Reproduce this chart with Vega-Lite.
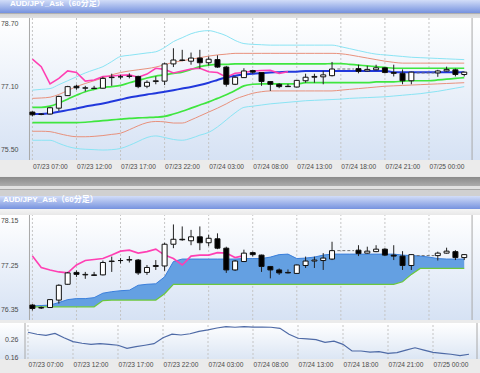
{
"$schema":"https://vega.github.io/schema/vega-lite/v6.json",
"background":"#ebebeb",
"padding":0,
"columns":1,
"spacing":0,
"bounds":"flush",
"config":{
  "view":{"stroke":null},
  "axis":{"domain":false,"ticks":false,"grid":false,"title":null,"minExtent":0,"labelOverlap":false,"labelFlush":false,"labelFont":"Liberation Sans","labelFontSize":7,"labelColor":"#4a4a4a"}
},
"datasets":{
"candles":[{"i":0,"o":76.45,"h":76.47,"l":76.34,"c":76.38},{"i":1,"o":76.39,"h":76.42,"l":76.37,"c":76.40},{"i":2,"o":76.40,"h":76.57,"l":76.39,"c":76.56},{"i":3,"o":76.55,"h":76.87,"l":76.48,"c":76.85},{"i":4,"o":76.87,"h":77.12,"l":76.86,"c":77.10},{"i":5,"o":77.11,"h":77.15,"l":77.02,"c":77.07},{"i":6,"o":77.06,"h":77.12,"l":76.98,"c":77.07},{"i":7,"o":77.06,"h":77.12,"l":77.04,"c":77.05},{"i":8,"o":77.06,"h":77.35,"l":77.05,"c":77.31},{"i":9,"o":77.33,"h":77.43,"l":77.12,"c":77.34},{"i":10,"o":77.35,"h":77.40,"l":77.29,"c":77.35},{"i":11,"o":77.36,"h":77.44,"l":77.31,"c":77.37},{"i":12,"o":77.36,"h":77.38,"l":77.06,"c":77.10},{"i":13,"o":77.11,"h":77.26,"l":77.06,"c":77.21},{"i":14,"o":77.23,"h":77.36,"l":77.16,"c":77.25},{"i":15,"o":77.24,"h":77.71,"l":77.14,"c":77.68},{"i":16,"o":77.68,"h":78.08,"l":77.60,"c":77.78},{"i":17,"o":77.78,"h":78.04,"l":77.75,"c":77.77},{"i":18,"o":77.75,"h":77.97,"l":77.66,"c":77.83},{"i":19,"o":77.83,"h":78.04,"l":77.56,"c":77.71},{"i":20,"o":77.71,"h":77.87,"l":77.64,"c":77.80},{"i":21,"o":77.79,"h":77.90,"l":77.58,"c":77.60},{"i":22,"o":77.60,"h":77.63,"l":77.10,"c":77.16},{"i":23,"o":77.16,"h":77.36,"l":77.14,"c":77.34},{"i":24,"o":77.33,"h":77.57,"l":77.32,"c":77.50},{"i":25,"o":77.51,"h":77.53,"l":77.43,"c":77.47},{"i":26,"o":77.46,"h":77.47,"l":77.12,"c":77.23},{"i":27,"o":77.23,"h":77.24,"l":76.99,"c":77.16},{"i":28,"o":77.16,"h":77.19,"l":77.06,"c":77.10},{"i":29,"o":77.11,"h":77.17,"l":77.09,"c":77.10},{"i":30,"o":77.09,"h":77.27,"l":77.08,"c":77.26},{"i":31,"o":77.25,"h":77.43,"l":77.20,"c":77.34},{"i":32,"o":77.34,"h":77.43,"l":77.20,"c":77.36},{"i":33,"o":77.35,"h":77.50,"l":77.16,"c":77.40},{"i":34,"o":77.38,"h":77.73,"l":77.36,"c":77.55},{"i":37,"o":77.56,"h":77.66,"l":77.44,"c":77.49},{"i":38,"o":77.50,"h":77.63,"l":77.49,"c":77.54},{"i":39,"o":77.53,"h":77.66,"l":77.52,"c":77.58},{"i":40,"o":77.58,"h":77.60,"l":77.44,"c":77.46},{"i":41,"o":77.46,"h":77.66,"l":77.36,"c":77.44},{"i":42,"o":77.44,"h":77.54,"l":77.16,"c":77.25},{"i":43,"o":77.25,"h":77.48,"l":77.16,"c":77.47},{"i":46,"o":77.45,"h":77.53,"l":77.35,"c":77.50},{"i":47,"o":77.50,"h":77.61,"l":77.49,"c":77.54},{"i":48,"o":77.53,"h":77.56,"l":77.36,"c":77.41},{"i":49,"o":77.41,"h":77.48,"l":77.36,"c":77.47}],
"dash":[{"a":34.6,"b":36.5,"y":77.55},{"a":43.6,"b":45.6,"y":77.45}],
"xgrid":[{"g":0},{"g":5},{"g":10},{"g":15},{"g":20},{"g":25},{"g":30},{"g":35},{"g":40},{"g":45}],
"xedge":[{"g":-0.3333},{"g":49.8889}],
"bands":[
{"i":0,"u3":77.01,"u2":76.80,"u1":76.57,"m":76.40,"l1":76.18,"l2":75.96,"l3":75.73},
{"i":1,"u3":77.03,"u2":76.81,"u1":76.57,"m":76.40,"l1":76.18,"l2":75.96,"l3":75.73},
{"i":2,"u3":77.05,"u2":76.83,"u1":76.60,"m":76.42,"l1":76.18,"l2":75.95,"l3":75.73},
{"i":3,"u3":77.15,"u2":76.90,"u1":76.68,"m":76.46,"l1":76.18,"l2":75.90,"l3":75.65},
{"i":4,"u3":77.25,"u2":77.00,"u1":76.78,"m":76.50,"l1":76.18,"l2":75.85,"l3":75.57},
{"i":5,"u3":77.35,"u2":77.10,"u1":76.88,"m":76.54,"l1":76.18,"l2":75.82,"l3":75.52},
{"i":6,"u3":77.45,"u2":77.18,"u1":76.97,"m":76.59,"l1":76.19,"l2":75.82,"l3":75.50},
{"i":7,"u3":77.53,"u2":77.25,"u1":77.03,"m":76.63,"l1":76.21,"l2":75.83,"l3":75.49},
{"i":8,"u3":77.61,"u2":77.32,"u1":77.08,"m":76.67,"l1":76.23,"l2":75.85,"l3":75.48},
{"i":9,"u3":77.74,"u2":77.40,"u1":77.10,"m":76.72,"l1":76.25,"l2":75.88,"l3":75.49},
{"i":10,"u3":77.87,"u2":77.46,"u1":77.13,"m":76.77,"l1":76.27,"l2":75.91,"l3":75.52},
{"i":11,"u3":77.90,"u2":77.50,"u1":77.20,"m":76.82,"l1":76.29,"l2":76.00,"l3":75.60},
{"i":12,"u3":77.93,"u2":77.53,"u1":77.26,"m":76.86,"l1":76.30,"l2":76.10,"l3":75.70},
{"i":13,"u3":77.96,"u2":77.56,"u1":77.32,"m":76.90,"l1":76.31,"l2":76.18,"l3":75.80},
{"i":14,"u3":77.99,"u2":77.60,"u1":77.37,"m":76.93,"l1":76.32,"l2":76.21,"l3":75.84},
{"i":15,"u3":78.10,"u2":77.66,"u1":77.40,"m":76.97,"l1":76.34,"l2":76.20,"l3":75.80},
{"i":16,"u3":78.25,"u2":77.72,"u1":77.44,"m":77.01,"l1":76.40,"l2":76.17,"l3":75.75},
{"i":17,"u3":78.35,"u2":77.76,"u1":77.47,"m":77.05,"l1":76.47,"l2":76.17,"l3":75.73},
{"i":18,"u3":78.45,"u2":77.80,"u1":77.54,"m":77.09,"l1":76.55,"l2":76.25,"l3":75.78},
{"i":19,"u3":78.51,"u2":77.84,"u1":77.61,"m":77.14,"l1":76.63,"l2":76.35,"l3":75.86},
{"i":20,"u3":78.53,"u2":77.88,"u1":77.65,"m":77.20,"l1":76.71,"l2":76.45,"l3":75.93},
{"i":21,"u3":78.48,"u2":77.91,"u1":77.67,"m":77.27,"l1":76.80,"l2":76.55,"l3":76.07},
{"i":22,"u3":78.40,"u2":77.93,"u1":77.67,"m":77.34,"l1":76.89,"l2":76.66,"l3":76.25},
{"i":23,"u3":78.28,"u2":77.95,"u1":77.68,"m":77.38,"l1":77.00,"l2":76.78,"l3":76.43},
{"i":24,"u3":78.20,"u2":77.95,"u1":77.68,"m":77.41,"l1":77.12,"l2":76.86,"l3":76.57},
{"i":25,"u3":78.18,"u2":77.95,"u1":77.68,"m":77.43,"l1":77.16,"l2":76.93,"l3":76.60},
{"i":26,"u3":78.17,"u2":77.95,"u1":77.68,"m":77.45,"l1":77.17,"l2":76.97,"l3":76.63},
{"i":27,"u3":78.16,"u2":77.95,"u1":77.68,"m":77.46,"l1":77.17,"l2":76.99,"l3":76.66},
{"i":28,"u3":78.16,"u2":77.95,"u1":77.68,"m":77.47,"l1":77.17,"l2":76.99,"l3":76.68},
{"i":29,"u3":78.16,"u2":77.95,"u1":77.68,"m":77.48,"l1":77.17,"l2":76.99,"l3":76.70},
{"i":30,"u3":78.16,"u2":77.95,"u1":77.68,"m":77.48,"l1":77.17,"l2":76.99,"l3":76.72},
{"i":31,"u3":78.16,"u2":77.95,"u1":77.68,"m":77.50,"l1":77.20,"l2":76.99,"l3":76.74},
{"i":32,"u3":78.16,"u2":77.95,"u1":77.68,"m":77.50,"l1":77.20,"l2":76.99,"l3":76.75},
{"i":33,"u3":78.16,"u2":77.95,"u1":77.68,"m":77.50,"l1":77.20,"l2":76.99,"l3":76.76},
{"i":34,"u3":78.16,"u2":77.95,"u1":77.69,"m":77.50,"l1":77.20,"l2":76.99,"l3":76.77},
{"i":35,"u3":78.12,"u2":77.94,"u1":77.69,"m":77.50,"l1":77.20,"l2":77.01,"l3":76.78},
{"i":36,"u3":78.07,"u2":77.91,"u1":77.67,"m":77.50,"l1":77.20,"l2":77.03,"l3":76.80},
{"i":37,"u3":78.02,"u2":77.87,"u1":77.65,"m":77.50,"l1":77.20,"l2":77.05,"l3":76.81},
{"i":38,"u3":77.97,"u2":77.83,"u1":77.63,"m":77.50,"l1":77.20,"l2":77.07,"l3":76.82},
{"i":39,"u3":77.93,"u2":77.79,"u1":77.61,"m":77.50,"l1":77.22,"l2":77.09,"l3":76.83},
{"i":40,"u3":77.91,"u2":77.75,"u1":77.59,"m":77.50,"l1":77.22,"l2":77.11,"l3":76.84},
{"i":41,"u3":77.89,"u2":77.72,"u1":77.57,"m":77.47,"l1":77.22,"l2":77.12,"l3":76.86},
{"i":42,"u3":77.87,"u2":77.70,"u1":77.57,"m":77.47,"l1":77.24,"l2":77.13,"l3":76.88},
{"i":43,"u3":77.85,"u2":77.70,"u1":77.57,"m":77.47,"l1":77.25,"l2":77.14,"l3":76.90},
{"i":44,"u3":77.84,"u2":77.70,"u1":77.57,"m":77.47,"l1":77.25,"l2":77.15,"l3":76.92},
{"i":45,"u3":77.83,"u2":77.70,"u1":77.57,"m":77.47,"l1":77.25,"l2":77.16,"l3":76.95},
{"i":46,"u3":77.82,"u2":77.70,"u1":77.57,"m":77.47,"l1":77.27,"l2":77.17,"l3":76.98},
{"i":47,"u3":77.81,"u2":77.70,"u1":77.57,"m":77.47,"l1":77.29,"l2":77.18,"l3":77.02},
{"i":48,"u3":77.80,"u2":77.70,"u1":77.57,"m":77.47,"l1":77.31,"l2":77.19,"l3":77.06},
{"i":49,"u3":77.79,"u2":77.70,"u1":77.57,"m":77.47,"l1":77.33,"l2":77.20,"l3":77.10}],
"pink1":[{"i":0,"v":77.80},{"i":1,"v":77.61},{"i":2,"v":77.17},{"i":3,"v":77.31},{"i":4,"v":77.50},{"i":5,"v":77.46},{"i":6,"v":77.24},{"i":7,"v":77.27},{"i":8,"v":77.36},{"i":9,"v":77.37},{"i":10,"v":77.39},{"i":11,"v":77.40},{"i":12,"v":77.34},{"i":13,"v":77.42},{"i":14,"v":77.57},{"i":15,"v":77.54},{"i":16,"v":77.45},{"i":17,"v":77.50},{"i":18,"v":77.55},{"i":19,"v":77.57},{"i":20,"v":77.48},{"i":21,"v":77.46},{"i":22,"v":77.34},{"i":23,"v":77.44},{"i":24,"v":77.46},{"i":25,"v":77.50},{"i":26,"v":77.51},{"i":27,"v":77.52},{"i":28,"v":77.44},{"i":29,"v":77.48}],
"pink2":[{"i":0,"v":77.44},{"i":1,"v":77.21},{"i":2,"v":77.16},{"i":3,"v":77.12},{"i":4,"v":77.10},{"i":5,"v":77.26},{"i":6,"v":77.35},{"i":7,"v":77.37},{"i":8,"v":77.39},{"i":9,"v":77.46},{"i":10,"v":77.54},{"i":11,"v":77.56},{"i":12,"v":77.50},{"i":13,"v":77.53},{"i":14,"v":77.58},{"i":15,"v":77.46},{"i":16,"v":77.39},{"i":17,"v":77.26},{"i":18,"v":77.44},{"i":19,"v":77.46},{"i":20,"v":77.46},{"i":21,"v":77.51},{"i":22,"v":77.50},{"i":23,"v":77.41},{"i":24,"v":77.45}],
"cloud":[{"i":0,"t":76.43,"b":76.415},{"i":1,"t":76.44,"b":76.415},{"i":2,"t":76.45,"b":76.415},{"i":3,"t":76.50,"b":76.415},{"i":4,"t":76.56,"b":76.415},{"i":5,"t":76.58,"b":76.415},{"i":6,"t":76.58,"b":76.415},{"i":7,"t":76.60,"b":76.415},{"i":8,"t":76.69,"b":76.54},{"i":9,"t":76.72,"b":76.55},{"i":10,"t":76.74,"b":76.55},{"i":11,"t":76.75,"b":76.55},{"i":12,"t":76.85,"b":76.55},{"i":13,"t":76.87,"b":76.55},{"i":14,"t":76.88,"b":76.55},{"i":15,"t":77.02,"b":76.68},{"i":16,"t":77.33,"b":76.87},{"i":17,"t":77.38,"b":76.87},{"i":18,"t":77.38,"b":76.87},{"i":19,"t":77.38,"b":76.87},{"i":20,"t":77.38,"b":76.87},{"i":21,"t":77.38,"b":76.87},{"i":22,"t":77.38,"b":76.87},{"i":23,"t":77.38,"b":76.87},{"i":24,"t":77.39,"b":76.87},{"i":25,"t":77.39,"b":76.87},{"i":26,"t":77.39,"b":76.87},{"i":27,"t":77.42,"b":76.87},{"i":28,"t":77.47,"b":76.87},{"i":29,"t":77.48,"b":76.87},{"i":30,"t":77.39,"b":76.87},{"i":31,"t":77.40,"b":76.87},{"i":32,"t":77.42,"b":76.87},{"i":33,"t":77.46,"b":76.87},{"i":34,"t":77.48,"b":76.87},{"i":35,"t":77.48,"b":76.87},{"i":36,"t":77.48,"b":76.87},{"i":37,"t":77.48,"b":76.87},{"i":38,"t":77.48,"b":76.87},{"i":39,"t":77.48,"b":76.87},{"i":40,"t":77.48,"b":76.87},{"i":41,"t":77.48,"b":76.87},{"i":42,"t":77.46,"b":76.92},{"i":43,"t":77.45,"b":77.07},{"i":44,"t":77.44,"b":77.19},{"i":45,"t":77.42,"b":77.19},{"i":46,"t":77.39,"b":77.19},{"i":47,"t":77.38,"b":77.19},{"i":48,"t":77.38,"b":77.19},{"i":49,"t":77.38,"b":77.19}],
"vol":[{"i":0,"v":0.299},{"i":1,"v":0.288},{"i":2,"v":0.282},{"i":3,"v":0.293},{"i":4,"v":0.269},{"i":5,"v":0.247},{"i":6,"v":0.238},{"i":7,"v":0.232},{"i":8,"v":0.236},{"i":9,"v":0.232},{"i":10,"v":0.227},{"i":11,"v":0.210},{"i":12,"v":0.219},{"i":13,"v":0.227},{"i":14,"v":0.236},{"i":15,"v":0.269},{"i":16,"v":0.289},{"i":17,"v":0.284},{"i":18,"v":0.291},{"i":19,"v":0.304},{"i":20,"v":0.312},{"i":21,"v":0.323},{"i":22,"v":0.330},{"i":23,"v":0.327},{"i":24,"v":0.330},{"i":25,"v":0.328},{"i":26,"v":0.328},{"i":27,"v":0.327},{"i":28,"v":0.321},{"i":29,"v":0.288},{"i":30,"v":0.266},{"i":31,"v":0.262},{"i":32,"v":0.258},{"i":33,"v":0.243},{"i":34,"v":0.250},{"i":35,"v":0.232},{"i":36,"v":0.195},{"i":37,"v":0.195},{"i":38,"v":0.189},{"i":39,"v":0.191},{"i":40,"v":0.182},{"i":41,"v":0.186},{"i":42,"v":0.200},{"i":43,"v":0.213},{"i":44,"v":0.200},{"i":45,"v":0.187},{"i":46,"v":0.182},{"i":47,"v":0.177},{"i":48,"v":0.169},{"i":49,"v":0.177}]
},
"concat":[
{"width":480,"height":18,
 "view":{"stroke":null,"fill":{"gradient":"linear","x1":0,"y1":0,"x2":0,"y2":1,"stops":[{"offset":0,"color":"#d2ddf8"},{"offset":0.71,"color":"#7793df"},{"offset":0.72,"color":"#8c8c8c"},{"offset":0.78,"color":"#d4d4d4"},{"offset":1,"color":"#e2e2e2"}]}},
 "title":{"text":"AUD/JPY_Ask（60分足）","anchor":"start","frame":"group","offset":0,"dy":14,"baseline":"alphabetic","dx":10,"color":"#ffffff","font":"Liberation Sans, Noto Sans CJK JP","fontSize":8,"fontWeight":"bold"},
 "data":{"values":[]},
 "mark":"point",
 "encoding":{}
},
{"width":480,"height":158,
 "view":{"stroke":null,"fill":{"gradient":"linear","x1":0,"y1":0,"x2":0,"y2":1,"stops":[{"offset":0,"color":"#ffffff"},{"offset":0.898,"color":"#d6e2f4"},{"offset":0.9,"color":"#ebebeb"},{"offset":1,"color":"#ebebeb"}]}},
 "encoding":{"x":{"field":"i","type":"quantitative","scale":{"domain":[-3.1111,50.2222],"nice":false,"zero":false},"axis":{"values":[0,5,10,15,20,25,30,35,40,45],"labelExpr":"['07/23 07:00','07/23 12:00','07/23 17:00','07/23 22:00','07/24 03:00','07/24 08:00','07/24 13:00','07/24 18:00','07/24 21:00','07/25 00:00'][round(datum.value/5)]","labelAlign":"left","labelPadding":3,"labelFontSize":6.6,"offset":-16}}},
 "layer":[
  {"data":{"name":"xgrid"},"mark":{"type":"rule","color":"#c4c4c4","strokeDash":[2,2]},
   "encoding":{"x":{"field":"g","type":"quantitative","scale":{"domain":[-3.1111,50.2222],"nice":false,"zero":false}},
    "y":{"datum":75.226,"type":"quantitative","scale":{"domain":[74.817,78.853],"nice":false,"zero":false}},"y2":{"datum":78.853}}},
  {"data":{"values":[{"g":75.5},{"g":76.3},{"g":77.1},{"g":77.9},{"g":78.7}]},"mark":{"type":"rule","color":"#c4c4c4","strokeDash":[2,2]},
   "encoding":{"x":{"datum":-0.3333,"type":"quantitative","scale":{"domain":[-3.1111,50.2222],"nice":false,"zero":false}},"x2":{"datum":49.8889},
    "y":{"field":"g","type":"quantitative","scale":{"domain":[74.817,78.853],"nice":false,"zero":false},"axis":{"values":[75.5,76.3,77.1,77.9,78.7],"format":".2f","offset":-25,"labelPadding":7}}}},
  {"data":{"values":[{"g":75.226},{"g":78.853}]},"mark":{"type":"rule","color":"#a8a8a8"},
   "encoding":{"x":{"datum":-0.3333,"type":"quantitative","scale":{"domain":[-3.1111,50.2222],"nice":false,"zero":false}},"x2":{"datum":49.8889},
    "y":{"field":"g","type":"quantitative","scale":{"domain":[74.817,78.853],"nice":false,"zero":false}}}},
  {"data":{"name":"xedge"},"mark":{"type":"rule","color":"#a8a8a8"},
   "encoding":{"x":{"field":"g","type":"quantitative","scale":{"domain":[-3.1111,50.2222],"nice":false,"zero":false}},
    "y":{"datum":75.226,"type":"quantitative","scale":{"domain":[74.817,78.853],"nice":false,"zero":false}},"y2":{"datum":78.853}}},
  {"data":{"name":"bands"},"transform":[{"fold":["u3","l3"],"as":["k","v"]}],"mark":{"type":"line","color":"#8ae4f4","strokeWidth":1,"interpolate":"monotone"},
   "encoding":{"y":{"field":"v","type":"quantitative","scale":{"domain":[74.817,78.853],"nice":false,"zero":false}},"detail":{"field":"k"}}},
  {"data":{"name":"bands"},"transform":[{"fold":["u2","l2"],"as":["k","v"]}],"mark":{"type":"line","color":"#e8917c","strokeWidth":1,"interpolate":"monotone"},
   "encoding":{"y":{"field":"v","type":"quantitative","scale":{"domain":[74.817,78.853],"nice":false,"zero":false}},"detail":{"field":"k"}}},
  {"data":{"name":"bands"},"transform":[{"fold":["u1","l1"],"as":["k","v"]}],"mark":{"type":"line","color":"#3fe63f","strokeWidth":1.7,"interpolate":"monotone"},
   "encoding":{"y":{"field":"v","type":"quantitative","scale":{"domain":[74.817,78.853],"nice":false,"zero":false}},"detail":{"field":"k"}}},
  {"data":{"name":"bands"},"mark":{"type":"line","color":"#2138dc","strokeWidth":2,"interpolate":"monotone"},
   "encoding":{"y":{"field":"m","type":"quantitative","scale":{"domain":[74.817,78.853],"nice":false,"zero":false}}}},
  {"data":{"name":"pink1"},"mark":{"type":"line","color":"#ff3fb3","strokeWidth":1.6},
   "encoding":{"y":{"field":"v","type":"quantitative","scale":{"domain":[74.817,78.853],"nice":false,"zero":false}}}},
  {"data":{"name":"dash"},"mark":{"type":"rule","color":"#707070","strokeDash":[3,2]},
   "encoding":{"x":{"field":"a","type":"quantitative","scale":{"domain":[-3.1111,50.2222],"nice":false,"zero":false}},"x2":{"field":"b"},"y":{"field":"y","type":"quantitative","scale":{"domain":[74.817,78.853],"nice":false,"zero":false}}}},
  {"data":{"name":"candles"},"mark":{"type":"rule","color":"#222222"},
   "encoding":{"y":{"field":"l","type":"quantitative","scale":{"domain":[74.817,78.853],"nice":false,"zero":false}},"y2":{"field":"h"}}},
  {"data":{"name":"candles"},"mark":{"type":"bar","width":5,"stroke":"#111111","strokeWidth":1},
   "encoding":{"y":{"field":"o","type":"quantitative","scale":{"domain":[74.817,78.853],"nice":false,"zero":false}},"y2":{"field":"c"},
    "fill":{"condition":{"test":"datum.c >= datum.o","value":"#ffffff"},"value":"#000000"}}}
 ]
},
{"width":480,"height":20,
 "view":{"stroke":null,"fill":{"gradient":"linear","x1":0,"y1":0,"x2":0,"y2":1,"stops":[{"offset":0,"color":"#e8e8e8"},{"offset":0.04,"color":"#e8e8e8"},{"offset":0.05,"color":"#8a8a8a"},{"offset":0.48,"color":"#ababab"},{"offset":0.5,"color":"#e2e2e2"},{"offset":0.64,"color":"#e2e2e2"},{"offset":0.65,"color":"#a8a8a8"},{"offset":0.7,"color":"#a8a8a8"},{"offset":0.71,"color":"#d0d0d0"},{"offset":1,"color":"#d0d0d0"}]}},
 "data":{"values":[]},
 "mark":"point",
 "encoding":{}
},
{"width":480,"height":19,
 "view":{"stroke":null,"fill":{"gradient":"linear","x1":0,"y1":0,"x2":0,"y2":1,"stops":[{"offset":0,"color":"#d2ddf8"},{"offset":0.68,"color":"#7793df"},{"offset":0.69,"color":"#f4f4f4"},{"offset":1,"color":"#e8e8e8"}]}},
 "title":{"text":"AUD/JPY_Ask（60分足）","anchor":"start","frame":"group","offset":0,"dy":14,"baseline":"alphabetic","dx":3,"color":"#ffffff","font":"Liberation Sans, Noto Sans CJK JP","fontSize":8,"fontWeight":"bold"},
 "data":{"values":[]},
 "mark":"point",
 "encoding":{}
},
{"width":480,"height":108,
 "view":{"stroke":null,"fill":{"gradient":"linear","x1":0,"y1":0,"x2":0,"y2":1,"stops":[{"offset":0,"color":"#ffffff"},{"offset":0.97,"color":"#d6e2f4"},{"offset":0.972,"color":"#ebebeb"},{"offset":1,"color":"#ebebeb"}]}},
 "encoding":{"x":{"field":"i","type":"quantitative","scale":{"domain":[-3.1111,50.2222],"nice":false,"zero":false},"axis":null}},
 "layer":[
  {"data":{"name":"xgrid"},"mark":{"type":"rule","color":"#c4c4c4","strokeDash":[2,2]},
   "encoding":{"x":{"field":"g","type":"quantitative","scale":{"domain":[-3.1111,50.2222],"nice":false,"zero":false}},
    "y":{"datum":76.148,"type":"quantitative","scale":{"domain":[76.087,78.271],"nice":false,"zero":false}},"y2":{"datum":78.271}}},
  {"data":{"values":[{"g":76.35},{"g":76.8},{"g":77.25},{"g":77.7},{"g":78.15}]},"mark":{"type":"rule","color":"#c4c4c4","strokeDash":[2,2]},
   "encoding":{"x":{"datum":-0.3333,"type":"quantitative","scale":{"domain":[-3.1111,50.2222],"nice":false,"zero":false}},"x2":{"datum":49.8889},
    "y":{"field":"g","type":"quantitative","scale":{"domain":[76.087,78.271],"nice":false,"zero":false},"axis":{"values":[76.35,76.8,77.25,77.7,78.15],"format":".2f","offset":-25,"labelPadding":7}}}},
  {"data":{"values":[{"g":76.148},{"g":78.271}]},"mark":{"type":"rule","color":"#a8a8a8"},
   "encoding":{"x":{"datum":-0.3333,"type":"quantitative","scale":{"domain":[-3.1111,50.2222],"nice":false,"zero":false}},"x2":{"datum":49.8889},
    "y":{"field":"g","type":"quantitative","scale":{"domain":[76.087,78.271],"nice":false,"zero":false}}}},
  {"data":{"name":"xedge"},"mark":{"type":"rule","color":"#a8a8a8"},
   "encoding":{"x":{"field":"g","type":"quantitative","scale":{"domain":[-3.1111,50.2222],"nice":false,"zero":false}},
    "y":{"datum":76.148,"type":"quantitative","scale":{"domain":[76.087,78.271],"nice":false,"zero":false}},"y2":{"datum":78.271}}},
  {"data":{"name":"cloud"},"mark":{"type":"area","color":"#64a0e2","opacity":1},
   "encoding":{"y":{"field":"t","type":"quantitative","scale":{"domain":[76.087,78.271],"nice":false,"zero":false}},"y2":{"field":"b"}}},
  {"data":{"name":"cloud"},"mark":{"type":"line","color":"#3a7fdc","strokeWidth":1},
   "encoding":{"y":{"field":"t","type":"quantitative","scale":{"domain":[76.087,78.271],"nice":false,"zero":false}}}},
  {"data":{"name":"cloud"},"mark":{"type":"line","color":"#6cc83c","strokeWidth":1.2},
   "encoding":{"y":{"field":"b","type":"quantitative","scale":{"domain":[76.087,78.271],"nice":false,"zero":false}}}},
  {"data":{"name":"pink2"},"mark":{"type":"line","color":"#ff3fb3","strokeWidth":1.6},
   "encoding":{"y":{"field":"v","type":"quantitative","scale":{"domain":[76.087,78.271],"nice":false,"zero":false}}}},
  {"data":{"name":"dash"},"mark":{"type":"rule","color":"#707070","strokeDash":[3,2]},
   "encoding":{"x":{"field":"a","type":"quantitative","scale":{"domain":[-3.1111,50.2222],"nice":false,"zero":false}},"x2":{"field":"b"},"y":{"field":"y","type":"quantitative","scale":{"domain":[76.087,78.271],"nice":false,"zero":false}}}},
  {"data":{"name":"candles"},"mark":{"type":"rule","color":"#222222"},
   "encoding":{"y":{"field":"l","type":"quantitative","scale":{"domain":[76.087,78.271],"nice":false,"zero":false}},"y2":{"field":"h"}}},
  {"data":{"name":"candles"},"mark":{"type":"bar","width":5,"stroke":"#111111","strokeWidth":1},
   "encoding":{"y":{"field":"o","type":"quantitative","scale":{"domain":[76.087,78.271],"nice":false,"zero":false}},"y2":{"field":"c"},
    "fill":{"condition":{"test":"datum.c >= datum.o","value":"#ffffff"},"value":"#000000"}}}
 ]
},
{"width":480,"height":50,
 "view":{"stroke":null,"fill":{"gradient":"linear","x1":0,"y1":0,"x2":0,"y2":1,"stops":[{"offset":0,"color":"#ffffff"},{"offset":0.718,"color":"#dce6f4"},{"offset":0.72,"color":"#ebebeb"},{"offset":1,"color":"#ebebeb"}]}},
 "encoding":{"x":{"field":"i","type":"quantitative","scale":{"domain":[-3.1111,50.2222],"nice":false,"zero":false},"axis":{"values":[0,5,10,15,20,25,30,35,40,45],"labelExpr":"['07/23 07:00','07/23 12:00','07/23 17:00','07/23 22:00','07/24 03:00','07/24 08:00','07/24 13:00','07/24 18:00','07/24 21:00','07/25 00:00'][round(datum.value/5)]","labelAlign":"left","labelPadding":2,"labelFontSize":6.6,"offset":-14}}},
 "layer":[
  {"data":{"name":"xgrid"},"mark":{"type":"rule","color":"#c4c4c4","strokeDash":[2,2]},
   "encoding":{"x":{"field":"g","type":"quantitative","scale":{"domain":[-3.1111,50.2222],"nice":false,"zero":false}},
    "y":{"datum":0.1506,"type":"quantitative","scale":{"domain":[0.0728,0.3506],"nice":false,"zero":false}},"y2":{"datum":0.3506}}},
  {"data":{"values":[{"g":0.16},{"g":0.26}]},"mark":{"type":"rule","color":"#c4c4c4","strokeDash":[2,2]},
   "encoding":{"x":{"datum":-0.3333,"type":"quantitative","scale":{"domain":[-3.1111,50.2222],"nice":false,"zero":false}},"x2":{"datum":49.8889},
    "y":{"field":"g","type":"quantitative","scale":{"domain":[0.0728,0.3506],"nice":false,"zero":false},"axis":{"values":[0.16,0.26],"format":".2f","offset":-25,"labelPadding":7}}}},
  {"data":{"values":[{"g":0.1506},{"g":0.3506}]},"mark":{"type":"rule","color":"#a8a8a8"},
   "encoding":{"x":{"datum":-0.3333,"type":"quantitative","scale":{"domain":[-3.1111,50.2222],"nice":false,"zero":false}},"x2":{"datum":49.8889},
    "y":{"field":"g","type":"quantitative","scale":{"domain":[0.0728,0.3506],"nice":false,"zero":false}}}},
  {"data":{"name":"xedge"},"mark":{"type":"rule","color":"#a8a8a8"},
   "encoding":{"x":{"field":"g","type":"quantitative","scale":{"domain":[-3.1111,50.2222],"nice":false,"zero":false}},
    "y":{"datum":0.1506,"type":"quantitative","scale":{"domain":[0.0728,0.3506],"nice":false,"zero":false}},"y2":{"datum":0.3506}}},
  {"data":{"name":"vol"},"mark":{"type":"line","color":"#4e6aa6","strokeWidth":1.2},
   "encoding":{"y":{"field":"v","type":"quantitative","scale":{"domain":[0.0728,0.3506],"nice":false,"zero":false}}}}
 ]
}
]
}
